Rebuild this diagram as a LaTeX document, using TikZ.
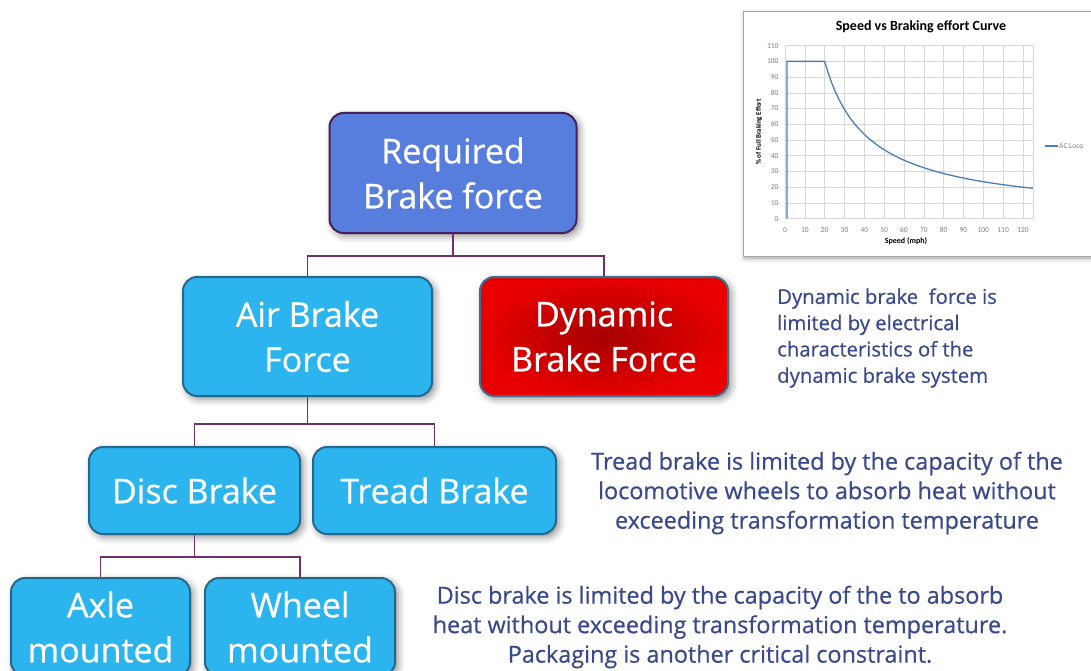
\documentclass[tikz,border=0pt]{standalone}
\usepackage{fontspec}
\setmainfont{Open Sans}
\newfontfamily\medfont{Open Sans}[FakeBold=0.6]
\newfontfamily\chartfont{Carlito}
\usetikzlibrary{shadows.blur}
\definecolor{reqblue}{RGB}{88,126,221}
\definecolor{reqedge}{RGB}{72,30,92}
\definecolor{skyblue}{RGB}{44,180,238}
\definecolor{skyedge}{RGB}{36,104,140}
\definecolor{dynred}{RGB}{232,0,0}
\definecolor{dyndark}{RGB}{165,0,0}
\definecolor{linkpurple}{RGB}{112,48,110}
\definecolor{notecol}{RGB}{58,74,138}
\definecolor{gridgray}{RGB}{215,215,215}
\definecolor{curveblue}{RGB}{74,126,187}
\begin{document}
\begin{tikzpicture}
    [x=1pt,y=-1pt,
    box/.style={rounded corners=14pt,line width=2pt,draw=skyedge,fill=skyblue,
        text=white,align=center,inner sep=0pt,
        font=\medfont\fontsize{34}{45}\selectfont,
        blur shadow={shadow xshift=3pt,shadow yshift=-3pt,shadow blur radius=7pt,shadow opacity=45}},
    link/.style={draw=linkpurple,line width=1.6pt},
    note/.style={text=notecol,inner sep=0pt,font=\medfont\fontsize{23.4}{29.5}\selectfont},
    tick/.style={text=gray,font=\chartfont\fontsize{7.5}{8}\selectfont}]
    \useasboundingbox (0,0) rectangle (1091,671);
    %boxes
    \node[box,fill=reqblue,draw=reqedge,minimum width=247,minimum height=120] (req) at (453,173) {Required\\Brake force};
    \node[box,minimum width=249,minimum height=119] (air) at (307.5,336.5) {Air Brake\\Force};
    \node[box,draw=skyedge!70!gray,inner color=dyndark,outer color=dynred,minimum width=248,minimum height=119] (dyn) at (604,336.5) {Dynamic\\Brake Force};
    \node[box,minimum width=211,minimum height=87] (disc) at (194.5,490.5) {Disc Brake};
    \node[box,minimum width=243,minimum height=87] (tread) at (434.5,490.5) {Tread Brake};
    \node[box,minimum width=179,minimum height=98] (axle) at (100.5,627) {Axle\\mounted};
    \node[box,minimum width=190,minimum height=98] (wheel) at (300,627) {Wheel\\mounted};
    %connectors
    \draw[link] (req.south) -- ++(0,22) -| (air.north);
    \draw[link] (req.south) -- ++(0,22) -| (dyn.north);
    \draw[link] (air.south) -- ++(0,27) -| (disc.north);
    \draw[link] (air.south) -- ++(0,27) -| (tread.north);
    \draw[link] (disc.south) -- ++(0,22) -| (axle.north);
    \draw[link] (disc.south) -- ++(0,22) -| (wheel.north);
    %notes
    \node[note,anchor=west,align=left,font=\medfont\fontsize{20.3}{26.3}\selectfont] (dyntxt) at (777,338)
        {Dynamic brake\ \ force is\\limited by electrical\\characteristics of the\\dynamic brake system};
    \node[note,align=center] (treadtxt) at (827,493)
        {Tread brake is limited by the capacity of the\\locomotive wheels to absorb heat without\\exceeding transformation temperature};
    \node[note,align=center] (disctxt) at (720,627)
        {Disc brake is limited by the capacity of the to absorb\\heat without exceeding transformation temperature.\\Packaging is another critical constraint.};
    %chart
    \filldraw[draw=gray!70,fill=white,line width=1pt,
        blur shadow={shadow xshift=2pt,shadow yshift=-2pt,shadow blur radius=5pt,shadow opacity=40}]
        (743,12) rectangle (1100,256);
    \node[font=\chartfont\bfseries\fontsize{14}{15}\selectfont] (title) at (921,27) {Speed vs Braking effort Curve};
    \begin{scope}[shift={(785,218.7)},x=1.983pt,y=1.573pt]
        %grid
        \foreach \i in {0,10,...,120}
            \draw[gridgray,line width=0.6pt] (\i,0) -- (\i,110);
        \draw[gridgray,line width=0.6pt] (125,0) -- (125,110);
        \foreach \j in {0,10,...,110}
            \draw[gridgray,line width=0.6pt] (0,\j) -- (125,\j);
        %tick labels
        \foreach \i in {0,10,...,120}
            \node[tick] at (\i,-7) {\i};
        \foreach \j in {0,10,...,110}
            \node[tick,anchor=east] at (-1.5,\j) {\j};
        %curve
        \draw[curveblue,line width=1.3pt,line join=round]
            (1,0) -- (1,100) -- (20,100)
            plot[domain=20:125,samples=60] (\x,{100*(20/\x)^0.9});
    \end{scope}
    \node[font=\chartfont\bfseries\fontsize{8}{9}\selectfont] (xtitle) at (906,241) {Speed (mph)};
    \node[font=\chartfont\bfseries\fontsize{7}{8}\selectfont,rotate=90] (ytitle) at (759,132) {\% of Full Braking Effort};
    %legend
    \coordinate (legA) at (1045,146);
    \coordinate (legB) at (1058,146);
    \draw[curveblue,line width=1.3pt] (legA) -- (legB);
    \node[tick,anchor=west,inner sep=1pt] (legtxt) at (legB) {AC Loco};
\end{tikzpicture}
\end{document}
